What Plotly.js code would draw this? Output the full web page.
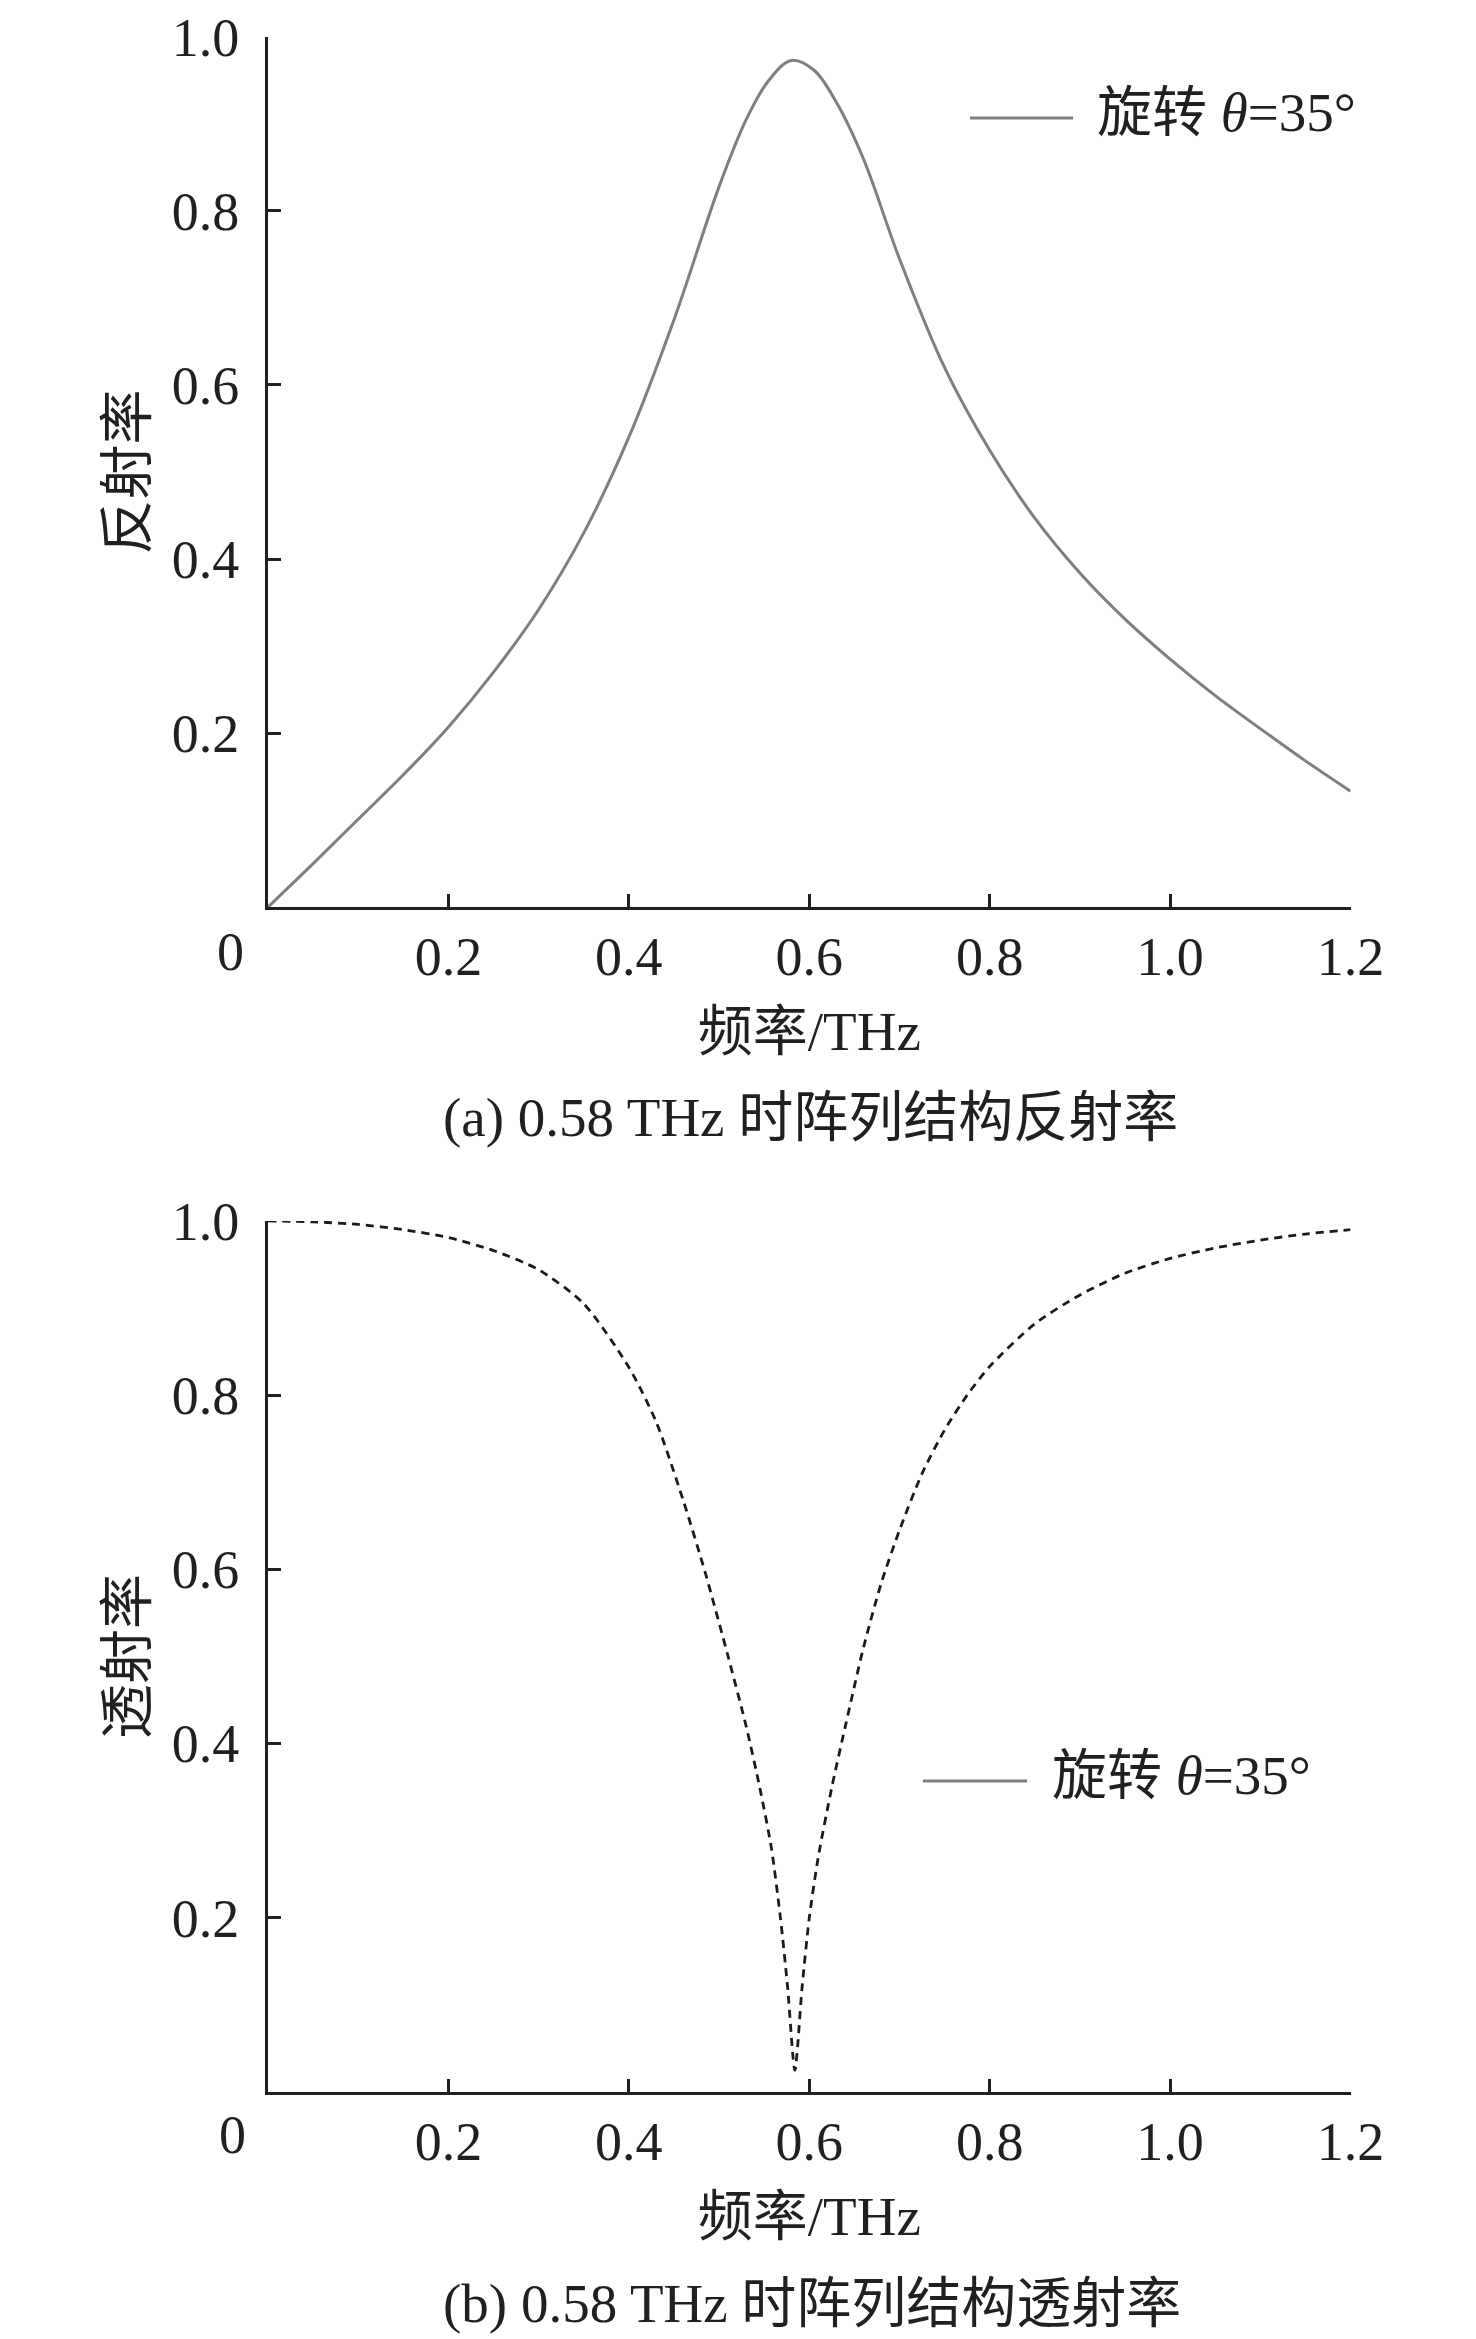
<!DOCTYPE html>
<html>
<head>
<meta charset="utf-8">
<script src="https://cdn.plot.ly/plotly-3.0.1.min.js"></script>
<style>
  body { margin: 0; background: #fff; }
  #chart { width: 1476px; height: 2339px; }
</style>
</head>
<body>
<div id="chart"></div>
<script>
// (a) reflectance
var freqR = [0, 0.05, 0.1, 0.15, 0.2, 0.25, 0.3, 0.35, 0.4, 0.45, 0.5, 0.53, 0.555, 0.58,
             0.605, 0.63, 0.66, 0.7, 0.75, 0.8, 0.85, 0.9, 0.95, 1.0, 1.05, 1.1, 1.15, 1.2];
var reflect = [0, 0.05, 0.101, 0.152, 0.207, 0.27, 0.342, 0.43, 0.54, 0.675, 0.828, 0.905,
               0.95, 0.973, 0.962, 0.925, 0.86, 0.745, 0.62, 0.525, 0.447, 0.384, 0.331,
               0.285, 0.243, 0.205, 0.168, 0.133];

// (b) transmittance
var freqT = [0, 0.05, 0.1, 0.15, 0.2, 0.25, 0.3, 0.35, 0.4, 0.43, 0.46, 0.485, 0.51, 0.53,
             0.545, 0.558, 0.568, 0.576, 0.584, 0.592, 0.6, 0.61, 0.625, 0.64, 0.66, 0.68,
             0.7, 0.725, 0.75, 0.775, 0.8, 0.85, 0.9, 0.95, 1.0, 1.05, 1.1, 1.15, 1.2];
var transmit = [1.0, 0.999, 0.996, 0.99, 0.981, 0.966, 0.944, 0.905, 0.832, 0.77, 0.68,
                0.595, 0.5, 0.42, 0.35, 0.28, 0.2, 0.12, 0.025, 0.12, 0.2, 0.27, 0.35,
                0.42, 0.51, 0.585, 0.645, 0.71, 0.76, 0.8, 0.833, 0.882, 0.915, 0.94,
                0.957, 0.969, 0.978, 0.985, 0.99];

var xTicks = [0.2, 0.4, 0.6, 0.8, 1.0, 1.2];
var xTickText = ['0.2', '0.4', '0.6', '0.8', '1.0', '1.2'];
var yTicks = [0.2, 0.4, 0.6, 0.8, 1.0];
var yTickText = ['0.2', '0.4', '0.6', '0.8', '1.0'];

var legendText = '旋转 <i>θ</i>=35°';
var captionA = '(a) 0.58 THz 时阵列结构反射率';
var captionB = '(b) 0.58 THz 时阵列结构透射率';

var FONT = 'Liberation Serif, "Times New Roman", "Noto Sans CJK SC", serif';
var INK = '#231f20';

var traceR = {
  x: freqR, y: reflect, xaxis: 'x', yaxis: 'y',
  type: 'scatter', mode: 'lines', showlegend: false,
  line: { color: '#7f7f7f', width: 3, shape: 'spline', smoothing: 1 }
};
var traceT = {
  x: freqT, y: transmit, xaxis: 'x2', yaxis: 'y2',
  type: 'scatter', mode: 'lines', showlegend: false,
  line: { color: '#1a1a1a', width: 2.8, dash: '8px,6px', shape: 'spline', smoothing: 0.7 }
};

function xAxis(domain, anchor) {
  return {
    domain: domain, anchor: anchor, range: [0, 1.2],
    tickmode: 'array', tickvals: xTicks, ticktext: xTickText,
    ticks: 'inside', ticklen: 13, tickwidth: 3, tickcolor: INK,
    showline: true, linewidth: 3, linecolor: INK,
    showgrid: false, zeroline: false,
    tickfont: { family: FONT, size: 54, color: INK },
    title: { text: '频率/THz', font: { family: FONT, size: 55, color: INK }, standoff: 26 }
  };
}
function yAxis(domain, anchor, label) {
  return {
    domain: domain, anchor: anchor, range: [0, 1],
    tickmode: 'array', tickvals: yTicks, ticktext: yTickText,
    ticks: 'inside', ticklen: 13, tickwidth: 3, tickcolor: INK,
    showline: true, linewidth: 3, linecolor: INK,
    showgrid: false, zeroline: false, ticklabelstandoff: 15,
    tickfont: { family: FONT, size: 54, color: INK },
    title: { text: label, font: { family: FONT, size: 55, color: INK }, standoff: 8 }
  };
}

var textFont = { family: FONT, size: 55, color: INK };

var layout = {
  width: 1476, height: 2339,
  margin: { l: 0, r: 0, t: 0, b: 0 },
  paper_bgcolor: '#fff', plot_bgcolor: '#fff',
  xaxis: xAxis([0.1816, 0.915], 'y'),
  yaxis: yAxis([0.6122, 0.9842], 'x', '反射率'),
  xaxis2: xAxis([0.1816, 0.915], 'y2'),
  yaxis2: yAxis([0.1056, 0.4780], 'x2', '透射率'),
  shapes: [
    { type: 'line', xref: 'paper', yref: 'paper', x0: 0.6572, x1: 0.7270, y0: 0.9496, y1: 0.9496,
      line: { color: '#7f7f7f', width: 3 } },
    { type: 'line', xref: 'paper', yref: 'paper', x0: 0.6253, x1: 0.6958, y0: 0.2386, y1: 0.2386,
      line: { color: '#7f7f7f', width: 3 } }
  ],
  annotations: [
    { xref: 'paper', yref: 'paper', x: 0.7419, y: 0.9521, xanchor: 'left', yanchor: 'middle',
      text: legendText, showarrow: false, font: textFont },
    { xref: 'paper', yref: 'paper', x: 0.7114, y: 0.2411, xanchor: 'left', yanchor: 'middle',
      text: legendText, showarrow: false, font: textFont },
    { xref: 'x', yref: 'y', x: 0, y: 0, xshift: -38, yshift: -45, xanchor: 'center', yanchor: 'middle',
      text: '0', showarrow: false, font: { family: FONT, size: 54, color: INK } },
    { xref: 'x2', yref: 'y2', x: 0, y: 0, xshift: -36, yshift: -43, xanchor: 'center', yanchor: 'middle',
      text: '0', showarrow: false, font: { family: FONT, size: 54, color: INK } },
    { xref: 'paper', yref: 'paper', x: 0.5488, y: 1 - 1117 / 2339, xanchor: 'center', yanchor: 'middle',
      text: captionA, showarrow: false, font: textFont },
    { xref: 'paper', yref: 'paper', x: 0.5502, y: 1 - 2303 / 2339, xanchor: 'center', yanchor: 'middle',
      text: captionB, showarrow: false, font: textFont }
  ]
};

Plotly.newPlot('chart', [traceR, traceT], layout, { displayModeBar: false });
</script>
</body>
</html>
